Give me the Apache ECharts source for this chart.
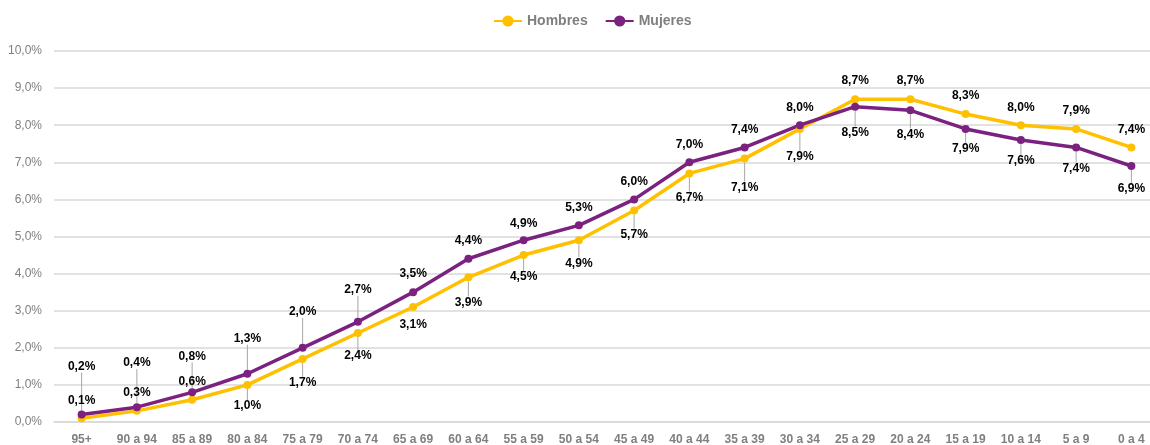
<!DOCTYPE html>
<html>
<head>
<meta charset="utf-8">
<script src="https://cdn.jsdelivr.net/npm/echarts@6/dist/echarts.min.js"></script>
<style>
  html, body { margin: 0; padding: 0; background: #fff; }
  #chart { width: 1150px; height: 445px; }
</style>
</head>
<body>
<div id="chart"></div>
<script>
// age groups, oldest first
const categories = ['95+', '90 a 94', '85 a 89', '80 a 84', '75 a 79', '70 a 74', '65 a 69', '60 a 64',
  '55 a 59', '50 a 54', '45 a 49', '40 a 44', '35 a 39', '30 a 34', '25 a 29', '20 a 24',
  '15 a 19', '10 a 14', '5 a 9', '0 a 4']
const hombres = [0.1, 0.3, 0.6, 1.0, 1.7, 2.4, 3.1, 3.9, 4.5, 4.9, 5.7, 6.7, 7.1, 7.9, 8.7, 8.7, 8.3, 8.0, 7.9, 7.4]
const mujeres = [0.2, 0.4, 0.8, 1.3, 2.0, 2.7, 3.5, 4.4, 4.9, 5.3, 6.0, 7.0, 7.4, 8.0, 8.5, 8.4, 7.9, 7.6, 7.4, 6.9]

// label placement (px from the point, negative = above)
const hombresLabelOff = [-18, -18, -18, 21, 24, 23, 18, 25, 22, 23, 24, 24, 29, 28, -19, -19, -18, -18, -18, -18]
const mujeresLabelOff = [-48, -44, -36, -35, -36, -32, -18, -18, -17, -18, -18, -18, -18, -18, 26, 24, 20, 21, 21, 23]

const fmt = v => v.toFixed(1).replace('.', ',') + '%'
const FONT = '"Liberation Sans", Arial, sans-serif'
const BASE = 15

function buildData(values, offs) {
  return values.map((v, i) => ({
    value: v,
    label: { position: offs[i] < 0 ? 'top' : 'bottom' },
    labelLine: { show: Math.abs(offs[i]) > 19 }
  }))
}

function makeSeries(name, color, values, offs) {
  return {
    name: name,
    type: 'line',
    data: buildData(values, offs),
    symbol: 'circle',
    symbolSize: 8,
    lineStyle: { color: color, width: 3.5 },
    itemStyle: { color: color },
    label: {
      show: true,
      distance: 5,
      formatter: p => fmt(p.value),
      color: '#000',
      fontFamily: FONT,
      fontWeight: 'bold',
      fontSize: 12
    },
    labelLine: {
      lineStyle: { color: '#a6a6a6', width: 1 }
    },
    labelLayout: p => {
      const o = offs[p.dataIndex]
      return { dy: o - Math.sign(o) * BASE }
    },
    animation: false
  }
}

const chart = echarts.init(document.getElementById('chart'))
chart.setOption({
  backgroundColor: '#fff',
  legend: {
    left: 488,
    top: 9,
    itemWidth: 28,
    itemHeight: 14,
    itemGap: 17,
    textStyle: { color: '#7f7f7f', fontFamily: FONT, fontWeight: 'bold', fontSize: 14 },
    data: ['Hombres', 'Mujeres']
  },
  grid: { left: 54, right: -9, top: 51, bottom: 23, outerBoundsMode: 'none', containLabel: false },
  xAxis: {
    type: 'category',
    data: categories,
    boundaryGap: true,
    axisLine: { lineStyle: { color: '#d9d9d9', width: 1.5 } },
    axisTick: { show: false },
    axisLabel: { color: '#7f7f7f', fontFamily: FONT, fontWeight: 'bold', fontSize: 12, margin: 12, interval: 0 }
  },
  yAxis: {
    type: 'value',
    min: 0,
    max: 10,
    interval: 1,
    axisLine: { show: false },
    axisTick: { show: false },
    splitLine: { lineStyle: { color: '#d9d9d9', width: 1.5 } },
    axisLabel: { color: '#7f7f7f', fontFamily: FONT, fontSize: 12, margin: 12, formatter: v => fmt(v) }
  },
  series: [
    makeSeries('Hombres', '#FFC000', hombres, hombresLabelOff),
    makeSeries('Mujeres', '#7B2180', mujeres, mujeresLabelOff)
  ]
})
</script>
</body>
</html>
